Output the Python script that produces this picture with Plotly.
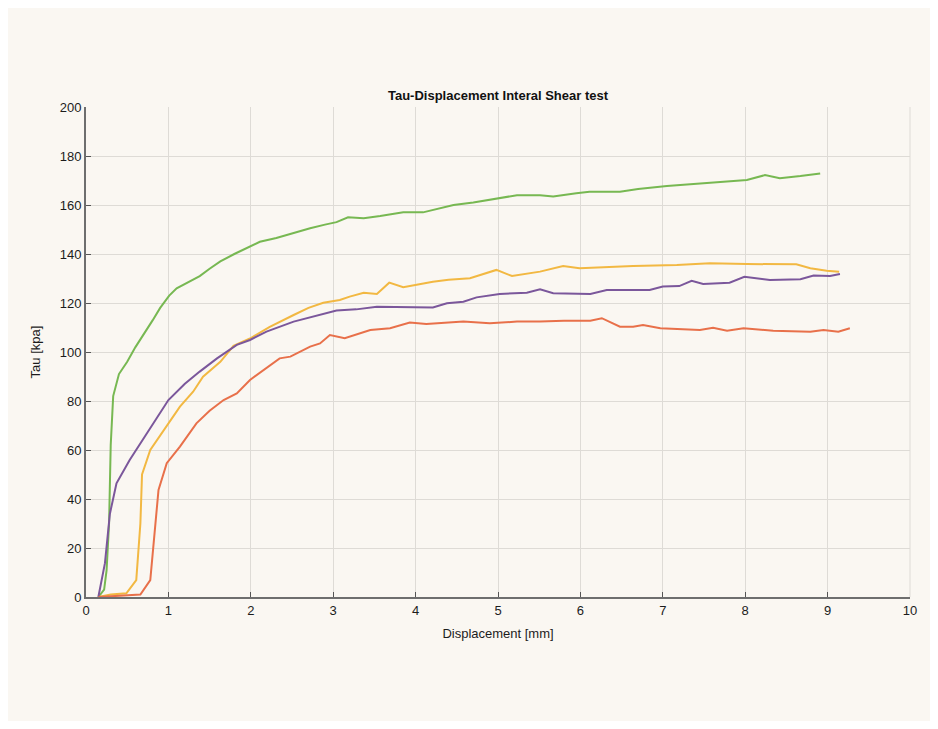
import plotly.graph_objects as go

green_x = [0.15, 0.22, 0.25, 0.28, 0.30, 0.33, 0.40, 0.50, 0.60, 0.70, 0.81, 0.90, 1.01, 1.10, 1.21, 1.38, 1.50, 1.63, 1.80, 1.99, 2.11, 2.31, 2.50, 2.72, 2.90, 3.04, 3.18, 3.37, 3.57, 3.85, 4.09, 4.21, 4.46, 4.70, 5.02, 5.23, 5.51, 5.67, 5.95, 6.11, 6.48, 6.70, 7.05, 7.45, 7.75, 8.02, 8.24, 8.42, 8.67, 8.91]
green_y = [0, 3, 11, 30, 62, 82, 91, 96, 102, 107, 113, 118, 123, 126, 128, 131, 134, 137, 140, 143, 145, 146.5, 148.5, 150.5, 152, 153, 155, 154.6, 155.5, 157, 157, 158, 160, 161, 162.7, 164, 164, 163.5, 164.8, 165.4, 165.4, 166.5, 167.8, 168.8, 169.5, 170.2, 172.2, 170.9, 171.8, 172.9]

yellow_x = [0.15, 0.30, 0.49, 0.61, 0.66, 0.68, 0.78, 0.90, 1.00, 1.14, 1.30, 1.42, 1.63, 1.79, 1.99, 2.23, 2.52, 2.70, 2.88, 3.08, 3.20, 3.37, 3.53, 3.68, 3.85, 4.21, 4.40, 4.66, 4.98, 5.17, 5.51, 5.79, 5.99, 6.24, 6.64, 7.17, 7.57, 8.02, 8.62, 8.79, 8.99, 9.14]
yellow_y = [0, 1, 1.5, 6.9, 30, 50, 60, 66, 71, 77.7, 83.8, 89.9, 96, 102.5, 105.5, 110.3, 115.1, 118, 120.1, 121.2, 122.6, 124.2, 123.7, 128.3, 126.4, 128.7, 129.5, 130.1, 133.5, 131, 132.8, 135.1, 134.2, 134.6, 135.1, 135.5, 136.2, 135.9, 135.8, 134.2, 133.2, 132.8]

purple_x = [0.15, 0.23, 0.29, 0.37, 0.53, 0.74, 1.00, 1.20, 1.38, 1.59, 1.83, 1.99, 2.19, 2.52, 2.76, 3.04, 3.28, 3.53, 4.21, 4.38, 4.58, 4.74, 5.02, 5.35, 5.51, 5.67, 6.12, 6.32, 6.84, 7.00, 7.20, 7.35, 7.49, 7.81, 7.99, 8.30, 8.67, 8.83, 9.03, 9.15]
purple_y = [0, 13.8, 34, 46.4, 55.9, 66.8, 80.4, 87, 92, 97.4, 102.9, 104.9, 108.3, 112.4, 114.4, 116.9, 117.4, 118.5, 118.2, 119.9, 120.5, 122.3, 123.7, 124.2, 125.6, 124, 123.7, 125.3, 125.3, 126.7, 126.9, 129.1, 127.8, 128.3, 130.7, 129.4, 129.7, 131.2, 131, 131.8]

red_x = [0.15, 0.66, 0.78, 0.84, 0.88, 0.98, 1.14, 1.34, 1.50, 1.67, 1.83, 1.99, 2.17, 2.35, 2.48, 2.60, 2.72, 2.84, 2.96, 3.14, 3.45, 3.69, 3.93, 4.13, 4.58, 4.90, 5.23, 5.51, 5.80, 6.12, 6.26, 6.48, 6.64, 6.76, 6.97, 7.45, 7.61, 7.78, 7.98, 8.34, 8.79, 8.95, 9.13, 9.27]
red_y = [0, 1, 6.9, 30, 43.7, 54.6, 61.4, 70.9, 76, 80.4, 83.1, 88.6, 93, 97.4, 98.1, 100, 102.2, 103.5, 106.9, 105.6, 109, 109.7, 112, 111.4, 112.4, 111.7, 112.4, 112.4, 112.8, 112.8, 113.8, 110.3, 110.3, 111, 109.7, 109, 109.9, 108.7, 109.7, 108.7, 108.3, 109, 108.3, 109.7]

x_ticks = list(range(0, 11))
y_ticks = list(range(0, 201, 20))

FONT = "Liberation Sans, Arial"

fig = go.Figure()
for xs, ys, col in [(green_x, green_y, "#77b852"),
                    (yellow_x, yellow_y, "#f2b842"),
                    (purple_x, purple_y, "#7b579b"),
                    (red_x, red_y, "#e8704a")]:
    fig.add_trace(go.Scatter(x=xs, y=ys, mode="lines",
                             line=dict(color=col, width=2),
                             showlegend=False))

axis_common = dict(showgrid=True, gridcolor="#dedbd6", gridwidth=1,
                   showline=True, linecolor="#6e6e6e", linewidth=2,
                   ticks="inside", ticklen=5, tickcolor="#555555",
                   zeroline=False, mirror=False,
                   tickfont=dict(family=FONT, size=13, color="#1c1c1c"))

W, H = 922, 713
fig.update_layout(
    width=W, height=H,
    paper_bgcolor="#faf7f2", plot_bgcolor="#faf7f2",
    margin=dict(l=78, r=20, t=99, b=124),
    title=dict(text="<b>Tau-Displacement Interal Shear test</b>",
               x=490 / W, xanchor="center",
               y=1 - 87 / H, yanchor="middle",
               font=dict(family=FONT, size=13, color="#111111")),
    xaxis=dict(range=[0, 10], tickvals=x_ticks,
               title=dict(text="Displacement [mm]", standoff=12,
                          font=dict(family=FONT, size=13, color="#1c1c1c")),
               **axis_common),
    yaxis=dict(range=[0, 200], tickvals=y_ticks,
               title=dict(text="Tau [kpa]", standoff=16,
                          font=dict(family=FONT, size=13, color="#1c1c1c")),
               **axis_common),
)
fig.add_shape(type="line", xref="paper", yref="paper", x0=1, x1=1, y0=0, y1=1,
              line=dict(color="#dedbd6", width=1))

fig.write_html("out.html")
